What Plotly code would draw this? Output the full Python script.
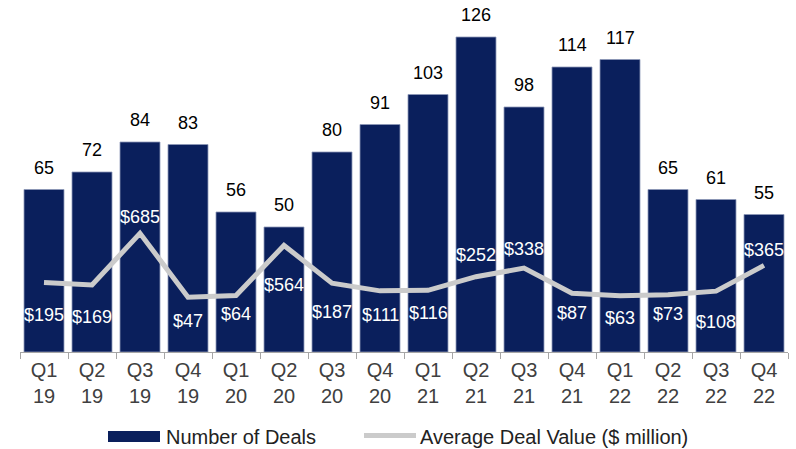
import plotly.graph_objects as go

# ---- data ----
quarters = ["Q1", "Q2", "Q3", "Q4", "Q1", "Q2", "Q3", "Q4",
            "Q1", "Q2", "Q3", "Q4", "Q1", "Q2", "Q3", "Q4"]
years = ["19", "19", "19", "19", "20", "20", "20", "20",
         "21", "21", "21", "21", "22", "22", "22", "22"]
num_deals = [65, 72, 84, 83, 56, 50, 80, 91, 103, 126, 98, 114, 117, 65, 61, 55]
avg_value = [195, 169, 685, 47, 64, 564, 187, 111, 116, 252, 338, 87, 63, 73, 108, 365]

# label offsets (px, positive = up) for the deal-value labels relative to the line
value_label_shift = [-33, -32, 16, -24, -18, -40, -29, -24, -23, 22, 19, -20, -22, -19, -31, 15]

categories = [f"{q}<br>{y}" for q, y in zip(quarters, years)]

W, H = 796, 449
ML, MR, MT, MB = 20, 8, 10, 97
PW, PH = W - ML - MR, H - MT - MB

BAR_COLOR = "#0a1f5c"
LINE_COLOR = "#cbcbcb"
FONT = "Liberation Sans, Arial, sans-serif"

fig = go.Figure()
fig.add_trace(go.Bar(
    x=categories, y=num_deals, name="Number of Deals",
    marker=dict(color=BAR_COLOR, line=dict(color="#8d98b8", width=0.8)),
    hoverinfo="skip",
))
fig.add_trace(go.Scatter(
    x=categories, y=avg_value, name="Average Deal Value ($ million)",
    mode="lines", yaxis="y2",
    line=dict(color=LINE_COLOR, width=5),
    hoverinfo="skip",
))

annotations = []
for c, v in zip(categories, num_deals):
    annotations.append(dict(
        x=c, y=v, xref="x", yref="y", text=str(v), showarrow=False,
        yanchor="middle", yshift=22,
        font=dict(family=FONT, size=18, color="#000000"),
    ))
for c, v, s in zip(categories, avg_value, value_label_shift):
    annotations.append(dict(
        x=c, y=v, xref="x", yref="y2", text=f"${v}", showarrow=False,
        yanchor="middle", yshift=s,
        font=dict(family=FONT, size=18, color="#ffffff"),
    ))


def px_x(px):
    return (px - ML) / PW


def px_y(py):
    return (H - MB - py) / PH


# manual legend
shapes = [
    dict(type="rect", xref="paper", yref="paper",
         x0=px_x(108), x1=px_x(160), y0=px_y(442), y1=px_y(431),
         fillcolor=BAR_COLOR, line=dict(width=0)),
    dict(type="line", xref="paper", yref="paper",
         x0=px_x(364), x1=px_x(416), y0=px_y(435.5), y1=px_y(435.5),
         line=dict(color=LINE_COLOR, width=5)),
]
annotations.append(dict(
    x=px_x(164), y=px_y(436.5), xref="paper", yref="paper",
    text="Number of Deals", showarrow=False, xanchor="left", yanchor="middle",
    font=dict(family=FONT, size=20, color="#222222"),
))
annotations.append(dict(
    x=px_x(418), y=px_y(436.5), xref="paper", yref="paper",
    text="Average Deal Value ($ million)", showarrow=False,
    xanchor="left", yanchor="middle",
    font=dict(family=FONT, size=20, color="#222222"),
))

fig.update_layout(
    width=W, height=H,
    margin=dict(l=ML, r=MR, t=MT, b=MB),
    paper_bgcolor="white", plot_bgcolor="white",
    showlegend=False,
    bargap=0.167,
    font=dict(family=FONT),
    xaxis=dict(
        type="category", showgrid=False, zeroline=False,
        showline=True, linecolor="#a6a6a6", linewidth=1,
        ticks="outside", ticklen=6, tickcolor="#a6a6a6", tickson="boundaries",
        tickfont=dict(family=FONT, size=20, color="#404040"),
        fixedrange=True,
    ),
    yaxis=dict(range=[0, PH / 2.5], visible=False, fixedrange=True),
    yaxis2=dict(range=[-50 / 0.1003, (PH - 50) / 0.1003], overlaying="y",
                visible=False, fixedrange=True),
    annotations=annotations,
    shapes=shapes,
)

fig.write_html(
    "out.html",
    config={"displayModeBar": False},
    post_script="document.body.style.margin='0';document.body.style.overflow='hidden';",
)
